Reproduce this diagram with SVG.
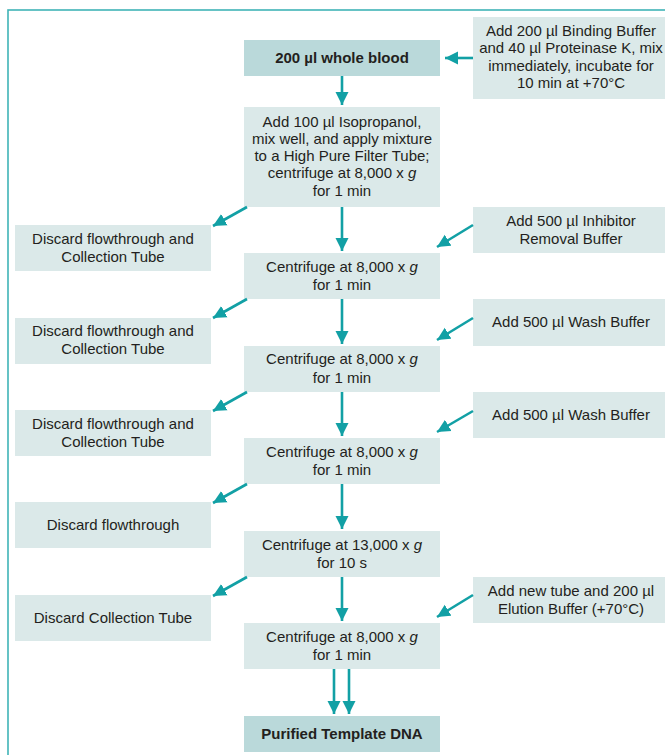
<svg xmlns="http://www.w3.org/2000/svg" width="665" height="755" viewBox="0 0 665 755">
<style>
.bx{fill:#dbe9e9}
.bd{fill:#bad9da}
text{font-family:"Liberation Sans Narrow","Liberation Sans",Arial,sans-serif;font-size:15px;fill:#231f20;text-anchor:middle}
.b{font-weight:bold}
.ar{stroke:#12a0a5;stroke-width:2.6;fill:none;marker-end:url(#ah)}
</style>
<defs>
<marker id="ah" markerUnits="userSpaceOnUse" markerWidth="14" markerHeight="14" refX="13" refY="7" orient="auto">
<path d="M0,0.5 L13,7 L0,13.5 z" fill="#12a0a5"/>
</marker>
</defs>
<rect x="8" y="10" width="700" height="800" fill="none" stroke="#40b4b7" stroke-width="1.6"/>
<g id="n-blood"><rect class="bd" x="244" y="40" width="196" height="36"/><text class="b" x="342" y="63">200 µl whole blood</text></g>
<g id="n-binding"><rect class="bx" x="473" y="17" width="200" height="82"/><text x="571" y="36">Add 200 µl Binding Buffer</text><text x="571" y="53">and 40 µl Proteinase K, mix</text><text x="571" y="71">immediately, incubate for</text><text x="571" y="88">10 min at +70°C</text></g>
<g id="n-iso"><rect class="bx" x="244" y="107" width="196" height="100"/><text x="342" y="127">Add 100 µl Isopropanol,</text><text x="342" y="144">mix well, and apply mixture</text><text x="342" y="161">to a High Pure Filter Tube;</text><text x="342" y="178">centrifuge at 8,000 x <tspan font-style="italic">g</tspan></text><text x="342" y="196">for 1 min</text></g>
<g id="n-d1"><rect class="bx" x="15" y="225" width="196" height="46"/><text x="113" y="244">Discard flowthrough and</text><text x="113" y="262">Collection Tube</text></g>
<g id="n-inh"><rect class="bx" x="473" y="207" width="200" height="46"/><text x="571" y="226">Add 500 µl Inhibitor</text><text x="571" y="244">Removal Buffer</text></g>
<g id="n-c1"><rect class="bx" x="244" y="253" width="196" height="46"/><text x="342" y="272">Centrifuge at 8,000 x <tspan font-style="italic">g</tspan></text><text x="342" y="290">for 1 min</text></g>
<g id="n-d2"><rect class="bx" x="15" y="318" width="196" height="46"/><text x="113" y="336">Discard flowthrough and</text><text x="113" y="354">Collection Tube</text></g>
<g id="n-w1"><rect class="bx" x="473" y="299" width="200" height="47"/><text x="571" y="327">Add 500 µl Wash Buffer</text></g>
<g id="n-c2"><rect class="bx" x="244" y="346" width="196" height="46"/><text x="342" y="364">Centrifuge at 8,000 x <tspan font-style="italic">g</tspan></text><text x="342" y="383">for 1 min</text></g>
<g id="n-d3"><rect class="bx" x="15" y="410" width="196" height="46"/><text x="113" y="429">Discard flowthrough and</text><text x="113" y="447">Collection Tube</text></g>
<g id="n-w2"><rect class="bx" x="473" y="392" width="200" height="46"/><text x="571" y="420">Add 500 µl Wash Buffer</text></g>
<g id="n-c3"><rect class="bx" x="244" y="438" width="196" height="46"/><text x="342" y="457">Centrifuge at 8,000 x <tspan font-style="italic">g</tspan></text><text x="342" y="475">for 1 min</text></g>
<g id="n-d4"><rect class="bx" x="15" y="502" width="196" height="46"/><text x="113" y="530">Discard flowthrough</text></g>
<g id="n-c4"><rect class="bx" x="244" y="531" width="196" height="46"/><text x="342" y="550">Centrifuge at 13,000 x <tspan font-style="italic">g</tspan></text><text x="342" y="568">for 10 s</text></g>
<g id="n-d5"><rect class="bx" x="15" y="595" width="196" height="46"/><text x="113" y="623">Discard Collection Tube</text></g>
<g id="n-el"><rect class="bx" x="473" y="577" width="200" height="46"/><text x="571" y="596">Add new tube and 200 µl</text><text x="571" y="614">Elution Buffer (+70°C)</text></g>
<g id="n-c5"><rect class="bx" x="244" y="623" width="196" height="46"/><text x="342" y="642">Centrifuge at 8,000 x <tspan font-style="italic">g</tspan></text><text x="342" y="660">for 1 min</text></g>
<g id="n-dna"><rect class="bd" x="244" y="716" width="196" height="36"/><text class="b" x="342" y="739">Purified Template DNA</text></g>
<g id="connectors">
<line class="ar" x1="473" y1="58" x2="445" y2="58"/>
<line class="ar" x1="342" y1="76" x2="342" y2="105"/>
<line class="ar" x1="342" y1="207" x2="342" y2="251"/>
<line class="ar" x1="342" y1="299" x2="342" y2="344"/>
<line class="ar" x1="342" y1="392" x2="342" y2="436"/>
<line class="ar" x1="342" y1="484" x2="342" y2="529"/>
<line class="ar" x1="342" y1="577" x2="342" y2="621"/>
<line class="ar" x1="334" y1="669" x2="334" y2="714"/>
<line class="ar" x1="349" y1="669" x2="349" y2="714"/>
<line class="ar" x1="247" y1="207" x2="213" y2="226"/>
<line class="ar" x1="247" y1="299" x2="213" y2="318"/>
<line class="ar" x1="247" y1="392" x2="213" y2="411"/>
<line class="ar" x1="247" y1="484" x2="213" y2="503"/>
<line class="ar" x1="247" y1="577" x2="213" y2="596"/>
<line class="ar" x1="473" y1="225" x2="437" y2="247"/>
<line class="ar" x1="473" y1="318" x2="437" y2="340"/>
<line class="ar" x1="473" y1="411" x2="437" y2="432"/>
<line class="ar" x1="473" y1="595" x2="437" y2="617"/>
</g>
</svg>
